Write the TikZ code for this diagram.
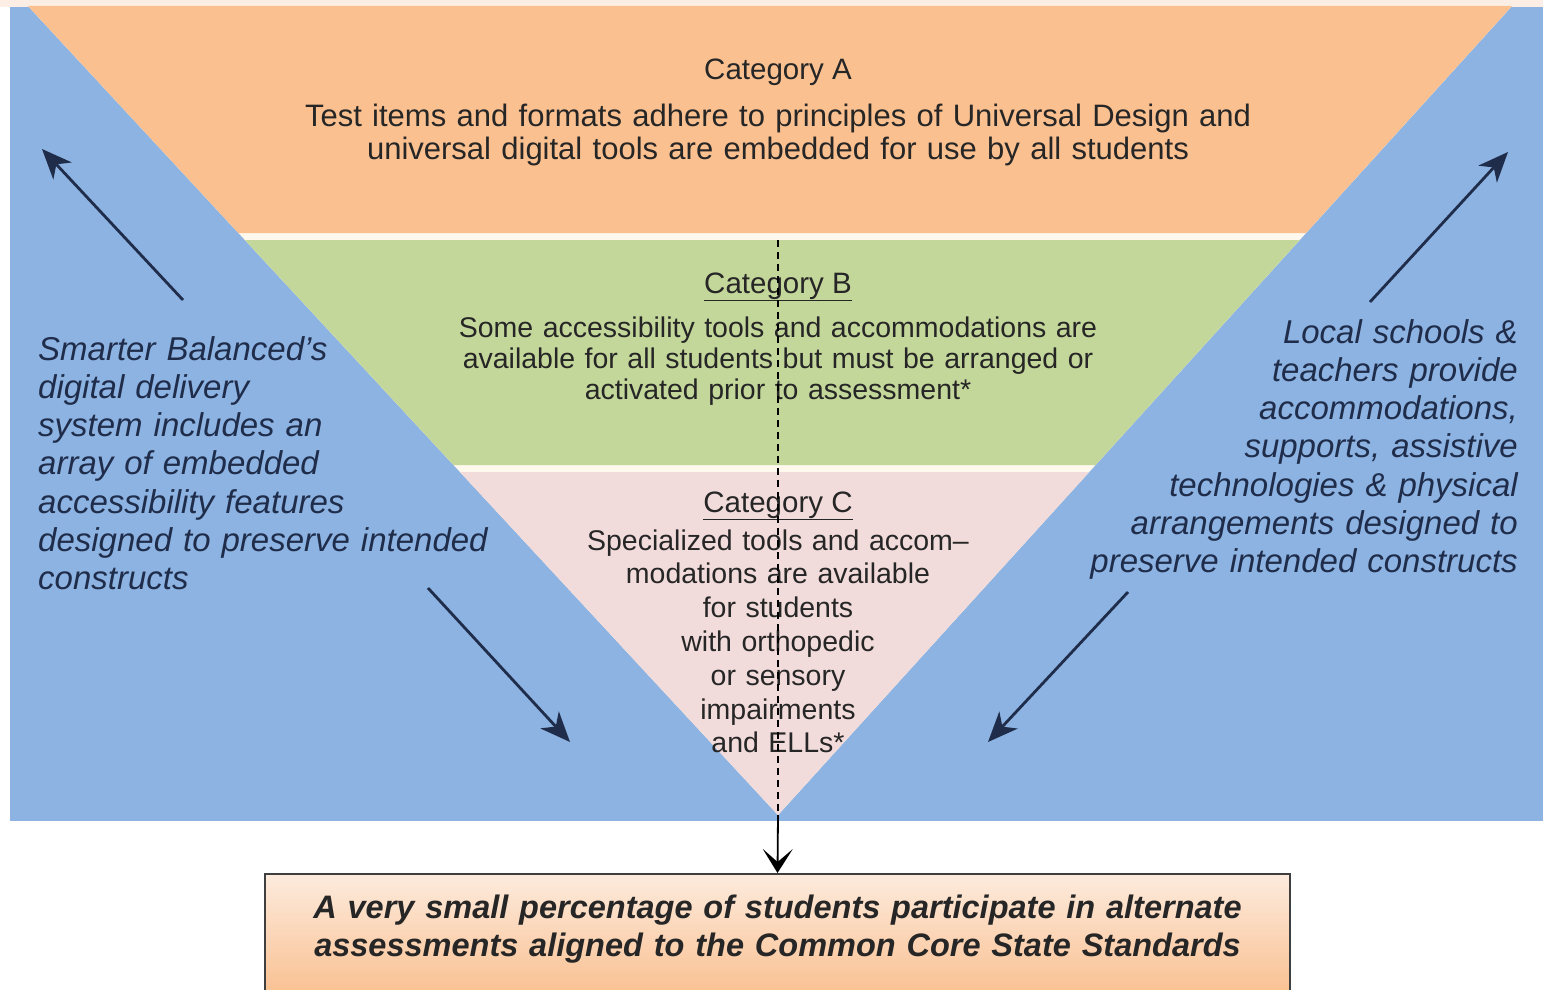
\documentclass[tikz,border=0pt]{standalone}
\usepackage{fontspec}
\setmainfont{Liberation Sans}
\usetikzlibrary{arrows.meta}

\definecolor{bgblue}{HTML}{8DB3E2}
\definecolor{bandA}{HTML}{FAC090}
\definecolor{bandB}{HTML}{C4D79B}
\definecolor{bandC}{HTML}{F2DCDB}
\definecolor{sepcream}{HTML}{FFF8EC}
\definecolor{topstrip}{HTML}{FCEEE4}
\definecolor{notenavy}{HTML}{1F2D4B}
\definecolor{catgray}{HTML}{262626}
\definecolor{boxtop}{HTML}{FDEBDD}
\definecolor{boxbot}{HTML}{F9BD8B}
\definecolor{boxedge}{HTML}{3F3F3F}

\tikzset{
  cattitle/.style={anchor=base, inner sep=0pt, text=catgray, font=\fontsize{29.5}{33}\selectfont},
  catbody/.style={anchor=base, inner sep=0pt, align=center, text=catgray},
  sidenote/.style={inner sep=0pt, text=notenavy, font=\fontsize{33}{38.3}\selectfont\itshape},
  sidearrow/.style={draw=notenavy, line width=2.8pt, -{Stealth[length=30pt,width=25pt,inset=9pt]}}
}

\begin{document}
\begin{tikzpicture}[x=1pt,y=-1pt]
       \useasboundingbox (0,0) rectangle (1543,990);
       \clip (0,0) rectangle (1543,990);
       \fill[white] (0,0) rectangle (1543,990);
       \fill[topstrip] (0,0) rectangle (1543,7);
       \fill[bgblue] (10,7) rectangle (1543,821);
       \coordinate (tl) at (28,6);
       \coordinate (tr) at (1512,6);
       \coordinate (apex) at (778,815);
       \coordinate (dtop) at (778,240);
       \fill[sepcream] (tl) -- (tr) -- (apex) -- cycle;
       \fill[bandA] (tl) -- (tr) -- (1306,233) -- (238.4,233) -- cycle;
       \fill[bandB] (244.9,240) -- (1299.7,240) -- (1095.6,465) -- (453.5,465) -- cycle;
       \fill[bandC] (460,472) -- (1089.2,472) -- (apex) -- cycle;

       \node at (778,80) [cattitle] (titleA) {Category A};
       \node at (778,126) [catbody, text width=1000pt, font=\fontsize{31}{33.5}\selectfont] (bodyA)
          {Test items and formats adhere to principles of Universal Design and\\
           universal digital tools are embedded for use by all students};
       \node at (778,293) [cattitle] (titleB) {\underline{Category B}};
       \node at (778,337) [catbody, text width=720pt, font=\fontsize{28.5}{31}\selectfont] (bodyB)
          {Some accessibility tools and accommodations are\\
           available for all students but must be arranged or\\
           activated prior to assessment*};
       \node at (778,512) [cattitle] (titleC) {\underline{Category C}};
       \node at (778,550) [catbody, text width=440pt, font=\fontsize{28.5}{33.8}\selectfont] (bodyC)
          {Specialized tools and accom--\\modations are available\\for students\\with orthopedic\\or sensory\\impairments\\and ELLs*};

       \node at (38,360) [sidenote, anchor=base west, text width=520pt, align=left] (leftnote)
          {Smarter Balanced's\\digital delivery\\system includes an\\array of embedded\\accessibility features\\designed to preserve intended\\constructs};
       \node at (1518,343) [sidenote, anchor=base east, text width=500pt, align=right] (rightnote)
          {Local schools \&\\teachers provide\\accommodations,\\supports, assistive\\technologies \& physical\\arrangements designed to\\preserve intended constructs};

       \coordinate (luTail) at (183,300);
       \coordinate (luHead) at (42,149);
       \coordinate (ldTail) at (428,588);
       \coordinate (ldHead) at (570,742);
       \coordinate (ruTail) at (1370,302);
       \coordinate (ruHead) at (1508,152);
       \coordinate (rdTail) at (1128,592);
       \coordinate (rdHead) at (988,742);
       \draw[sidearrow] (luTail) -- (luHead);
       \draw[sidearrow] (ldTail) -- (ldHead);
       \draw[sidearrow] (ruTail) -- (ruHead);
       \draw[sidearrow] (rdTail) -- (rdHead);

       \node at (777.5,873) [anchor=north, minimum width=1025pt, minimum height=130pt, draw=boxedge,
          line width=2pt, top color=boxtop, bottom color=boxbot, inner sep=0pt] (outcome) {};
       \node at (777.5,918) [anchor=base, inner sep=0pt, text width=1000pt, align=center,
          font=\fontsize{32.5}{38}\selectfont\bfseries\itshape, text=black!85] (outcometext)
          {A very small percentage of students participate in alternate\\
           assessments aligned to the Common Core State Standards};

       \draw[dash pattern=on 7pt off 5pt, line width=1.3pt] (dtop) -- (apex);
       \draw[-{Stealth[length=24pt,width=30pt,inset=13pt]}, line width=1.8pt] (apex) -- (outcome.north);
\end{tikzpicture}
\end{document}
